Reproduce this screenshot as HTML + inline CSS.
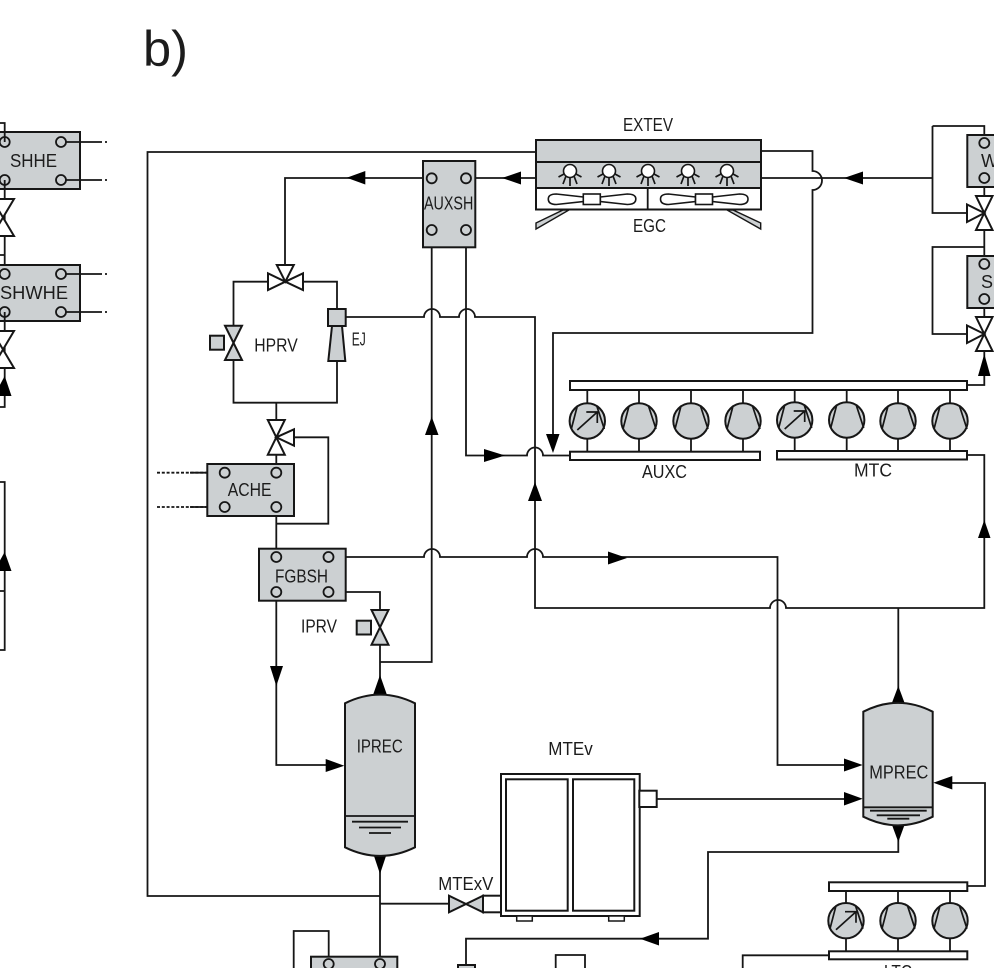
<!DOCTYPE html>
<html>
<head>
<meta charset="utf-8">
<style>
html,body{margin:0;padding:0;background:#fff;}
svg{display:block;}
text{font-family:"Liberation Sans",sans-serif;font-size:18px;fill:#1c1c1c;}
.l{fill:none;stroke:#161616;stroke-width:1.8;}
.b{fill:#ccd0d2;stroke:#161616;stroke-width:2;}
.w{fill:#fff;stroke:#161616;stroke-width:2;}
.a{fill:#000;stroke:none;}
.o{fill:none;stroke:#161616;stroke-width:1.7;}
</style>
</head>
<body>
<svg width="994" height="968" viewBox="0 0 994 968" xmlns="http://www.w3.org/2000/svg">
<defs>
<g id="c">
<circle r="17.7" class="b"/>
<path class="o" d="M-16 8L-10-15M9.500-15L17 8"/>
</g>
<g id="vc">
<circle r="17.7" class="b"/>
<path class="o" d="M-16 8L-10-15M9.500-15L17 8M-10 9L10-9M-1-9H10V2"/>
</g>
<g id="s">
<circle cy="0" r="6.500" fill="#fff" stroke="#161616" stroke-width="1.600"/>
<path class="o" d="M0 6.500V15M-4 5L-7 13M4 5L7 13M-6 3L-11.500 6M6 3L11.500 6"/>
</g>
<g id="p"><circle r="5" fill="none" stroke="#161616" stroke-width="1.8"/></g>
<g id="f">
<path class="w" d="M0 3L-27 0Q-35 0-35 5Q-35 10.500-27 10.500L0 7.500Z" style="stroke-width:1.600"/>
<path class="w" d="M17 3L44 0Q52.500 0 52.500 5Q52.500 10.500 44 10.500L17 7.500Z" style="stroke-width:1.600"/>
<rect x="0" y="0" width="17" height="10.500" class="w" style="stroke-width:1.600"/>
</g>
</defs>

<text x="143" y="66" style="font-size:50px" textLength="45" lengthAdjust="spacingAndGlyphs">b)</text>

<!-- far left pieces -->
<rect x="-4" y="132" width="84" height="57" class="b"/>
<rect x="-4" y="265" width="84" height="56" class="b"/>
<path class="l" d="M0 123H4.700V142M4.700 180V265M0 255H4.700M4.700 312V407H0"/>
<path class="l" d="M66 142H100M66 180H100M66 274H100M66 312H100"/>
<path class="l" d="M100 142H107M100 180H107M100 274H107M100 312H107" stroke-dasharray="2 3"/>
<use href="#p" x="4.700" y="142"/><use href="#p" x="4.700" y="180"/><use href="#p" x="61" y="142"/><use href="#p" x="61" y="180"/>
<use href="#p" x="4.700" y="274"/><use href="#p" x="4.700" y="312"/><use href="#p" x="61" y="274"/><use href="#p" x="61" y="312"/>
<text x="10" y="167" textLength="47" lengthAdjust="spacingAndGlyphs">SHHE</text>
<text x="0" y="299" textLength="68" lengthAdjust="spacingAndGlyphs">SHWHE</text>
<path class="w" d="M-8 199H14L-8 236H14Z"/>
<path class="w" d="M-8 331H14L-8 368H14Z"/>
<polygon class="a" points="4.700,376 -6,396 11.500,396"/>
<path class="l" d="M0 482H4.700V650H0M0 591H4.700"/>
<polygon class="a" points="4.700,552 -6,571 11.500,571"/>

<!-- main lines -->
<path class="l" d="M536 152H147.500V896H380"/>
<path class="l" d="M380 662H431.700V235"/>
<path class="l" d="M380 694V645M380 610V592H333"/>
<path class="l" d="M466 235V455.500H527a8 8 0 0 1 16 0H570"/>
<path class="l" d="M345.700 317H424a8 8 0 0 1 16 0H459a8 8 0 0 1 16 0H535V608H770a8 8 0 0 1 16 0H984.300V455H967"/>
<path class="l" d="M333 557H424a8 8 0 0 1 16 0H527a8 8 0 0 1 16 0H777.500V765H845"/>
<path class="l" d="M898.300 608V690"/>
<path class="l" d="M431.700 178H285V266"/>
<path class="l" d="M466 178H536"/>
<path class="l" d="M761 151H812.500V171a7.500 7.500 0 0 1 0 19V333H553V440"/>
<path class="l" d="M761 178H932.500M932.500 126V213H967M932.500 126H984.300V143"/>
<path class="l" d="M984.300 178V256M984.300 247H932.500V334H967M984.300 299V317M984.300 351V385H967"/>
<path class="l" d="M268 281.700H233.500V326M303 281.700H337V309M233.500 360V402.700H337V361M276.300 402.700V420"/>
<path class="l" d="M294 437.300H328.300V523.700H276.300M276.300 455V472M276.300 507V557M276.300 592V765H330"/>
<path class="l" d="M157 472.700H220M157 507H220" stroke-dasharray="3 1.800"/>
<path class="l" d="M190 472.700H220M190 507H220"/>
<path class="l" d="M380 860V965M380 903.700H449"/>
<path class="l" d="M657 799H845"/>
<path class="l" d="M898.300 830V852H708V938.700H466V966"/>
<path class="l" d="M950 783H985V886H967"/>
<path class="l" d="M829 955.300H742.700V968"/>
<path class="l" d="M293.700 968V931H328.700V958"/>

<!-- arrows -->
<polygon class="a" points="346.700,177.700 365.300,171 365.300,184.500"/>
<polygon class="a" points="502,178 521,171.500 521,184.500"/>
<polygon class="a" points="844,178 863,171.500 863,184.500"/>
<polygon class="a" points="984.300,354 978,376 990.500,376"/>
<polygon class="a" points="505,455.500 484,449 484,462"/>
<polygon class="a" points="553,453 546,434 559.500,434"/>
<polygon class="a" points="535,482 528,501 542,501"/>
<polygon class="a" points="431.700,416.700 425,435 438.500,435"/>
<polygon class="a" points="984.300,520 978,538 990.500,538"/>
<polygon class="a" points="627,558 608,551.500 608,564.500"/>
<polygon class="a" points="276.300,686 270,666 283,666"/>
<polygon class="a" points="344.300,765.700 325.700,759 325.700,772"/>
<polygon class="a" points="380,675 373,695 387,695"/>
<polygon class="a" points="380,874 374,856 386,856"/>
<polygon class="a" points="898.300,686 891.500,704 905,704"/>
<polygon class="a" points="862.700,765 844,758.500 844,771.500"/>
<polygon class="a" points="862.700,798.700 844,792 844,805.500"/>
<polygon class="a" points="933.300,782.700 952.300,776 952.300,789.500"/>
<polygon class="a" points="898.300,842 892,825 904.500,825"/>
<polygon class="a" points="640,938.700 659,932 659,945.500"/>

<!-- EXTEV -->
<rect x="536" y="140" width="225" height="48" class="b"/>
<path class="l" d="M536 162H761" style="stroke-width:2"/>
<rect x="536" y="188" width="225" height="21.500" class="w"/>
<path class="l" d="M647.700 188V209.500"/>
<use href="#s" x="570" y="171"/><use href="#s" x="609" y="171"/><use href="#s" x="648" y="171"/><use href="#s" x="688" y="171"/><use href="#s" x="727" y="171"/>
<use href="#f" x="583.300" y="194"/><use href="#f" x="695.500" y="194"/>
<polygon class="b" style="stroke-width:1.400" points="536,223 563,210 569,210 536,229"/>
<polygon class="b" style="stroke-width:1.400" points="760.700,223 733,210 727,210 760.700,229"/>
<text x="623" y="131" textLength="50" lengthAdjust="spacingAndGlyphs">EXTEV</text>
<text x="633" y="232" textLength="33" lengthAdjust="spacingAndGlyphs">EGC</text>

<!-- W / SH -->
<rect x="967.300" y="135" width="34" height="52" class="b"/>
<rect x="967.300" y="256" width="34" height="52" class="b"/>
<use href="#p" x="984.300" y="143"/><use href="#p" x="984.300" y="178"/><use href="#p" x="984.300" y="264"/><use href="#p" x="984.300" y="299"/>
<text x="981" y="167">W</text>
<text x="981" y="288">SH</text>
<path class="w" d="M976 196H992.500L976 230H992.500Z"/>
<path class="w" d="M967 204.500V222L984.300 213Z"/>
<path class="w" d="M976 317H992.500L976 351H992.500Z"/>
<path class="w" d="M967 325.500V343L984.300 334Z"/>

<!-- AUXSH -->
<rect x="423" y="161" width="52.300" height="86.300" class="b"/>
<use href="#p" x="431.700" y="178.300"/><use href="#p" x="466" y="178.300"/><use href="#p" x="431.700" y="230"/><use href="#p" x="466" y="230"/>
<text x="424" y="209.300" textLength="49.300" lengthAdjust="spacingAndGlyphs">AUXSH</text>

<!-- valve top -->
<path class="w" d="M276.800 265H293.800L285.300 281.700Z"/>
<path class="w" d="M268 273.300V290L285.300 281.700L303 273.300V290L285.300 281.700Z"/>
<!-- HPRV -->
<path class="b" d="M225 325.700H242L225 360H242Z"/>
<rect x="210" y="335.700" width="14" height="14" class="b"/>
<text x="254.300" y="351.700" textLength="43.400" lengthAdjust="spacingAndGlyphs">HPRV</text>
<!-- EJ -->
<rect x="328" y="309" width="17.700" height="17" class="b"/>
<polygon class="b" points="332,326 342,326 345.300,361 328.300,361"/>
<text x="351.700" y="345.700" textLength="14" lengthAdjust="spacingAndGlyphs">EJ</text>

<!-- ACHE valve -->
<path class="w" d="M267.800 420H284.800L267.800 454.700H284.800Z"/>
<path class="w" d="M294 429.300V445.700L276.300 437.300Z"/>
<!-- ACHE -->
<rect x="207.300" y="464" width="86.700" height="52" class="b"/>
<use href="#p" x="224.700" y="472.700"/><use href="#p" x="276.300" y="472.700"/><use href="#p" x="224.700" y="507"/><use href="#p" x="276.300" y="507"/>
<text x="227.700" y="496" textLength="43.800" lengthAdjust="spacingAndGlyphs">ACHE</text>
<!-- FGBSH -->
<rect x="259" y="548.700" width="86.700" height="52" class="b"/>
<use href="#p" x="276.300" y="557"/><use href="#p" x="328.500" y="557"/><use href="#p" x="276.300" y="592"/><use href="#p" x="328.500" y="592"/>
<text x="275" y="582.700" textLength="53" lengthAdjust="spacingAndGlyphs">FGBSH</text>
<!-- IPRV -->
<path class="b" d="M371.500 610H388.500L371.500 644.700H388.500Z"/>
<rect x="356.700" y="620.700" width="14.300" height="13.800" class="b"/>
<text x="301" y="632.500" textLength="36" lengthAdjust="spacingAndGlyphs">IPRV</text>

<!-- IPREC -->
<path class="b" d="M345 703.300Q380 686 415 703.300V847.300Q380 864.500 345 847.300Z"/>
<path class="l" d="M345 816H415"/>
<path class="l" d="M352 821.700H408M359 827.500H401M369 833H391"/>
<text x="356.700" y="752.700" textLength="46" lengthAdjust="spacingAndGlyphs">IPREC</text>

<!-- MTEv -->
<rect x="501" y="774" width="138.700" height="142" class="w"/>
<rect x="506" y="779.300" width="61.700" height="131.400" class="w"/>
<rect x="573" y="779.300" width="61.300" height="131.400" class="w"/>
<rect x="516.700" y="916" width="15.600" height="5" class="w" style="stroke-width:1.500"/>
<rect x="608.700" y="916" width="15.600" height="5" class="w" style="stroke-width:1.500"/>
<rect x="639.300" y="790.700" width="17.400" height="16.300" class="w"/>
<rect x="483" y="895.700" width="18" height="16.600" class="w"/>
<path class="b" d="M449 895.700V912.300L483 895.700V912.300Z"/>
<text x="548.300" y="755" textLength="44.400" lengthAdjust="spacingAndGlyphs">MTEv</text>
<text x="438.300" y="890" textLength="55" lengthAdjust="spacingAndGlyphs">MTExV</text>

<!-- MPREC -->
<path class="b" d="M863.300 711.700Q898 694 932.700 711.700V816.700Q898 834 863.300 816.700Z"/>
<path class="l" d="M863.300 807.300H932.700"/>
<path class="l" d="M870 810.700H926.700M876.700 815.300H920M887.300 818.700H909.300"/>
<text x="869.300" y="778.300" textLength="59" lengthAdjust="spacingAndGlyphs">MPREC</text>

<!-- Compressor racks -->
<path class="l" d="M587.300 390V451.700M639 390V451.700M691 390V451.700M743 390V451.700M794.700 390V451.700M846.700 390V451.700M898 390V451.700M950 390V451.700"/>
<rect x="570" y="381" width="397" height="9" class="w"/>
<rect x="570" y="451.700" width="190" height="8.300" class="w"/>
<rect x="777" y="451" width="190" height="8.500" class="w"/>
<use href="#vc" x="587.300" y="421"/><use href="#c" x="639" y="421"/><use href="#c" x="691" y="421"/><use href="#c" x="743" y="421"/>
<use href="#vc" x="794.700" y="420"/><use href="#c" x="846.700" y="420"/><use href="#c" x="898" y="421"/><use href="#c" x="950" y="421"/>
<text x="642" y="478" textLength="45" lengthAdjust="spacingAndGlyphs">AUXC</text>
<text x="854" y="476.500" textLength="38" lengthAdjust="spacingAndGlyphs">MTC</text>

<!-- LT rack -->
<path class="l" d="M846 891V951.300M898 891V951.300M950 891V951.300"/>
<rect x="829" y="882.300" width="138.300" height="8.700" class="w"/>
<rect x="829" y="951.300" width="138.300" height="8" class="w"/>
<use href="#vc" x="846" y="920.700"/><use href="#c" x="898" y="920.700"/><use href="#c" x="950" y="920.700"/>
<text x="884" y="978" textLength="28" lengthAdjust="spacingAndGlyphs">LTC</text>

<!-- bottom partial -->
<rect x="311" y="956.700" width="86.300" height="20" class="b"/>
<use href="#p" x="328.700" y="964"/><use href="#p" x="380" y="964"/>
<rect x="458" y="965" width="17" height="10" class="b"/>
<path class="l" d="M555.700 968V955H585V968"/>
</svg>
</body>
</html>
